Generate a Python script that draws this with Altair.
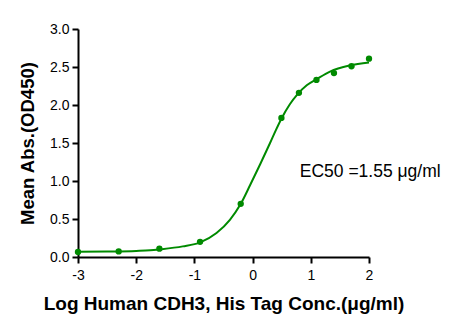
import altair as alt
import pandas as pd

# measured points (log10 concentration, mean OD450)
log_conc = [-3.0, -2.301, -1.602, -0.903, -0.204, 0.495, 0.796, 1.097, 1.398, 1.699, 2.0]
od450 = [0.066, 0.074, 0.11, 0.20, 0.70, 1.83, 2.16, 2.33, 2.42, 2.51, 2.61]

# fitted curve
curve_x = [-3.0, -2.5, -2.0, -1.76, -1.6, -1.2, -0.9, -0.62, -0.39, -0.21, -0.04,
           0.13, 0.30, 0.40, 0.495, 0.64, 0.77, 0.93, 1.10, 1.33, 1.67, 2.0]
curve_y = [0.068, 0.072, 0.080, 0.088, 0.100, 0.140, 0.193, 0.316, 0.49, 0.69, 0.95,
           1.22, 1.50, 1.67, 1.82, 2.01, 2.14, 2.26, 2.34, 2.44, 2.52, 2.56]

label_text = ["EC50 =1.55 \u03bcg/ml"]
label_x = [0.81]
label_y = [1.12]

x_ticks = [-3, -2, -1, 0, 1, 2]
y_ticks = [0.0, 0.5, 1.0, 1.5, 2.0, 2.5, 3.0]

GREEN = "#008a00"
FONT = "Liberation Sans"

pts = pd.DataFrame({"x": log_conc, "y": od450})
crv = pd.DataFrame({"x": curve_x, "y": curve_y})
lab = pd.DataFrame({"x": label_x, "y": label_y, "t": label_text})

xscale = alt.Scale(domain=[-3, 2], nice=False, zero=False)
yscale = alt.Scale(domain=[0, 3], nice=False)

xaxis = alt.Axis(
    title="Log Human CDH3, His Tag Conc.(\u03bcg/ml)",
    values=x_ticks, labelExpr="toString(datum.value)", grid=False,
    labelFlush=False, labelOverlap=False,
    domainColor="black", domainWidth=2, tickColor="black", tickWidth=2, tickSize=6,
    labelFontSize=14, labelColor="black", labelFont=FONT, labelPadding=5,
    titleFontSize=19, titleFont=FONT, titleFontWeight="bold", titleColor="black",
    titleY=46, titleBaseline="middle",
)
yaxis = alt.Axis(
    title="Mean Abs.(OD450)",
    values=y_ticks, format=".1f", grid=False, labelFlush=False, labelOverlap=False,
    domainColor="black", domainWidth=2, tickColor="black", tickWidth=2, tickSize=6,
    labelFontSize=14, labelColor="black", labelFont=FONT, labelPadding=3,
    titleFontSize=18.5, titleFont=FONT, titleFontWeight="bold", titleColor="black",
    titleX=-51, titleY=114, titleAngle=-90, titleBaseline="middle", titleAlign="center",
)

X = alt.X("x:Q", scale=xscale, axis=xaxis)
Y = alt.Y("y:Q", scale=yscale, axis=yaxis)

line = alt.Chart(crv).mark_line(color=GREEN, strokeWidth=2, interpolate="monotone").encode(x=X, y=Y)
dots = alt.Chart(pts).mark_point(filled=True, color=GREEN, size=40, opacity=1).encode(x=X, y=Y)
text = alt.Chart(lab).mark_text(
    align="left", baseline="middle", fontSize=17.5, font=FONT, color="black"
).encode(x=X, y=Y, text="t:N")

chart = alt.layer(line, dots, text).properties(
    width=291, height=228,
    padding={"left": 78, "right": 97, "top": 29, "bottom": 73},
    autosize=alt.AutoSizeParams(type="none"),
    background="white",
).configure_view(stroke=None)

chart.save("out.html", embed_options={"renderer": "svg", "actions": False})
